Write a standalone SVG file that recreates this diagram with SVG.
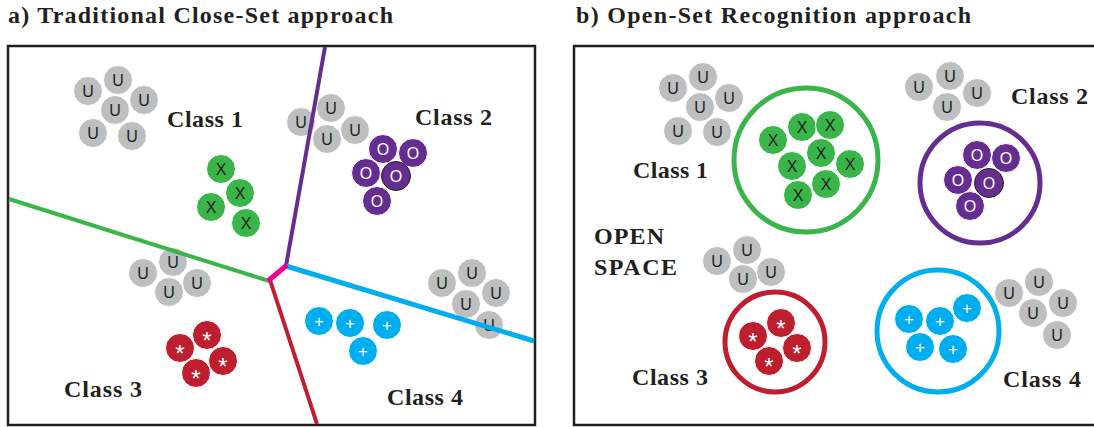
<svg xmlns="http://www.w3.org/2000/svg" width="1094" height="427" viewBox="0 0 1094 427">
<defs>
<style>
.title{font-family:'Liberation Serif','DejaVu Serif',serif;font-weight:bold;font-size:24px;fill:#231f20}
.lbl{font-family:'Liberation Serif','DejaVu Serif',serif;font-weight:bold;font-size:24px;fill:#231f20}
.box{fill:#fff;stroke:#231f20;stroke-width:2.5}
.c{stroke:#fff;stroke-width:1}
.gy{fill:#bcbec0}.gn{fill:#39b54a}.pu{fill:#662d91}.rd{fill:#be1e2d}.bl{fill:#00aeef}
.ol{stroke:#231f20;stroke-width:1}
.s{font-family:'Liberation Sans',sans-serif;font-size:16px;text-anchor:middle}
.sp{font-family:'Liberation Sans',sans-serif;font-size:17px;text-anchor:middle}
.st{font-family:'Liberation Sans',sans-serif;font-size:24px;text-anchor:middle}
.k{fill:#231f20}.w{fill:#fff}
.ln{fill:none;stroke-linecap:butt;stroke-linejoin:round}
.ring{fill:none;stroke-width:5}
</style>
</defs>
<rect width="1094" height="427" fill="#fff"/>
<text class="title" x="8" y="23" textLength="385">a) Traditional Close-Set approach</text>
<text class="title" x="576" y="23" textLength="395">b) Open-Set Recognition approach</text>
<rect class="box" x="8" y="46" width="527" height="379"/>
<rect class="box" x="574" y="46" width="530" height="379"/>

<!-- LEFT PANEL -->
<g id="L-u1">
<circle class="c gy" cx="88" cy="91" r="14.5"/><text class="s k" x="88" y="97">U</text>
<circle class="c gy" cx="118" cy="80" r="14.5"/><text class="s k" x="118" y="86">U</text>
<circle class="c gy" cx="144" cy="100" r="14.5"/><text class="s k" x="144" y="106">U</text>
<circle class="c gy" cx="115" cy="110" r="14.5"/><text class="s k" x="115" y="116">U</text>
<circle class="c gy" cx="93" cy="133" r="14.5"/><text class="s k" x="93" y="139">U</text>
<circle class="c gy" cx="132" cy="136" r="14.5"/><text class="s k" x="132" y="142">U</text>
</g>
<g id="L-class1"><text class="lbl" x="167" y="127" textLength="76">Class 1</text></g>
<g id="L-x">
<circle class="c gn" cx="221" cy="169" r="14.5"/><text class="s k" x="221" y="175">X</text>
<circle class="c gn" cx="240" cy="193" r="14.5"/><text class="s k" x="240" y="199">X</text>
<circle class="c gn" cx="211" cy="207" r="14.5"/><text class="s k" x="211" y="213">X</text>
<circle class="c gn" cx="246" cy="223" r="14.5"/><text class="s k" x="246" y="229">X</text>
</g>
<g id="L-u2">
<circle class="c gy" cx="301" cy="122" r="14.5"/><text class="s k" x="301" y="128">U</text>
<circle class="c gy" cx="331" cy="108" r="14.5"/><text class="s k" x="331" y="114">U</text>
<circle class="c gy" cx="355" cy="130" r="14.5"/><text class="s k" x="355" y="136">U</text>
<circle class="c gy" cx="327" cy="139" r="14.5"/><text class="s k" x="327" y="145">U</text>
</g>
<g id="L-class2"><text class="lbl" x="415" y="125" textLength="77">Class 2</text></g>
<g id="L-o">
<circle class="c pu" cx="383" cy="149" r="14.5"/><text class="s w" x="383" y="155">O</text>
<circle class="c pu" cx="413" cy="153" r="14.5"/><text class="s w" x="413" y="159">O</text>
<circle class="c pu" cx="366" cy="173" r="14.5"/><text class="s w" x="366" y="179">O</text>
<circle class="c pu" cx="377" cy="201" r="14.5"/><text class="s w" x="377" y="207">O</text>
<circle class="pu ol" cx="396" cy="176" r="14.5"/><text class="s w" x="396" y="182">O</text>
</g>
<g id="L-u3">
<circle class="c gy" cx="143" cy="273" r="14.5"/><text class="s k" x="143" y="279">U</text>
<circle class="c gy" cx="173" cy="262" r="14.5"/><text class="s k" x="173" y="268">U</text>
<circle class="c gy" cx="197" cy="283" r="14.5"/><text class="s k" x="197" y="289">U</text>
<circle class="c gy" cx="169" cy="292" r="14.5"/><text class="s k" x="169" y="298">U</text>
</g>
<g id="L-star">
<circle class="c rd" cx="207" cy="335" r="14.5"/><text class="st w" x="207" y="348.5">*</text>
<circle class="c rd" cx="180" cy="348" r="14.5"/><text class="st w" x="180" y="361.5">*</text>
<circle class="c rd" cx="223" cy="361" r="14.5"/><text class="st w" x="223" y="374.5">*</text>
<circle class="c rd" cx="196" cy="373" r="14.5"/><text class="st w" x="196" y="386.5">*</text>
</g>
<g id="L-class3"><text class="lbl" x="64" y="397" textLength="78">Class 3</text></g>
<g id="L-plus">
<circle class="c bl" cx="319" cy="321" r="14.5"/><text class="sp w" x="319" y="327">+</text>
<circle class="c bl" cx="350" cy="323" r="14.5"/><text class="sp w" x="350" y="329">+</text>
<circle class="c bl" cx="387" cy="325" r="14.5"/><text class="sp w" x="387" y="331">+</text>
<circle class="c bl" cx="363" cy="351" r="14.5"/><text class="sp w" x="363" y="357">+</text>
</g>
<g id="L-u4">
<circle class="c gy" cx="442" cy="283" r="14.5"/><text class="s k" x="442" y="289">U</text>
<circle class="c gy" cx="472" cy="273" r="14.5"/><text class="s k" x="472" y="279">U</text>
<circle class="c gy" cx="496" cy="293" r="14.5"/><text class="s k" x="496" y="299">U</text>
<circle class="c gy" cx="466" cy="304" r="14.5"/><text class="s k" x="466" y="310">U</text>
<circle class="c gy" cx="489" cy="325" r="14.5"/><text class="s k" x="489" y="331">U</text>
</g>
<g id="L-class4"><text class="lbl" x="387" y="405" textLength="76">Class 4</text></g>

<g id="connectors">
<line class="ln" x1="9" y1="199" x2="269" y2="281" stroke="#39b54a" stroke-width="4"/>
<line class="ln" x1="325" y1="47" x2="286" y2="266" stroke="#662d91" stroke-width="4"/>
<line class="ln" x1="286" y1="266" x2="534" y2="341" stroke="#00aeef" stroke-width="5"/>
<line class="ln" x1="270" y1="280" x2="317" y2="424" stroke="#be1e2d" stroke-width="4"/>
<line class="ln" x1="287" y1="265" x2="268" y2="281" stroke="#ec008c" stroke-width="5"/>
</g>

<!-- RIGHT PANEL -->
<g id="R-u1">
<circle class="c gy" cx="673" cy="88" r="14.5"/><text class="s k" x="673" y="94">U</text>
<circle class="c gy" cx="703" cy="77" r="14.5"/><text class="s k" x="703" y="83">U</text>
<circle class="c gy" cx="729" cy="98" r="14.5"/><text class="s k" x="729" y="104">U</text>
<circle class="c gy" cx="700" cy="107" r="14.5"/><text class="s k" x="700" y="113">U</text>
<circle class="c gy" cx="678" cy="131" r="14.5"/><text class="s k" x="678" y="137">U</text>
<circle class="c gy" cx="717" cy="132" r="14.5"/><text class="s k" x="717" y="138">U</text>
</g>
<g id="R-class1"><text class="lbl" x="633" y="178" textLength="75">Class 1</text></g>
<g id="R-x">
<circle class="ring" cx="806" cy="160" r="72" stroke="#39b54a"/>
<circle class="c gn" cx="773" cy="140" r="14.5"/><text class="s k" x="773" y="146">X</text>
<circle class="c gn" cx="802" cy="127" r="14.5"/><text class="s k" x="802" y="133">X</text>
<circle class="c gn" cx="830" cy="125" r="14.5"/><text class="s k" x="830" y="131">X</text>
<circle class="c gn" cx="821" cy="153" r="14.5"/><text class="s k" x="821" y="159">X</text>
<circle class="c gn" cx="792" cy="166" r="14.5"/><text class="s k" x="792" y="172">X</text>
<circle class="c gn" cx="850" cy="164" r="14.5"/><text class="s k" x="850" y="170">X</text>
<circle class="c gn" cx="826" cy="184" r="14.5"/><text class="s k" x="826" y="190">X</text>
<circle class="c gn" cx="798" cy="195" r="14.5"/><text class="s k" x="798" y="201">X</text>
</g>
<g id="R-u2">
<circle class="c gy" cx="919" cy="87" r="14.5"/><text class="s k" x="919" y="93">U</text>
<circle class="c gy" cx="950" cy="76" r="14.5"/><text class="s k" x="950" y="82">U</text>
<circle class="c gy" cx="977" cy="93" r="14.5"/><text class="s k" x="977" y="99">U</text>
<circle class="c gy" cx="947" cy="107" r="14.5"/><text class="s k" x="947" y="113">U</text>
</g>
<g id="R-class2"><text class="lbl" x="1011" y="104" textLength="77">Class 2</text></g>
<g id="R-o">
<circle class="ring" cx="980" cy="183" r="60" stroke="#662d91"/>
<circle class="c pu" cx="977" cy="155" r="14.5"/><text class="s w" x="977" y="161">O</text>
<circle class="c pu" cx="1006" cy="158" r="14.5"/><text class="s w" x="1006" y="164">O</text>
<circle class="c pu" cx="958" cy="180" r="14.5"/><text class="s w" x="958" y="186">O</text>
<circle class="c pu" cx="970" cy="206" r="14.5"/><text class="s w" x="970" y="212">O</text>
<circle class="pu ol" cx="989" cy="183" r="14.5"/><text class="s w" x="989" y="189">O</text>
</g>
<g id="R-openspace">
<text class="lbl" x="594" y="244" textLength="70">OPEN</text>
<text class="lbl" x="594" y="275" textLength="83">SPACE</text>
</g>
<g id="R-u3">
<circle class="c gy" cx="717" cy="261" r="14.5"/><text class="s k" x="717" y="267">U</text>
<circle class="c gy" cx="747" cy="250" r="14.5"/><text class="s k" x="747" y="256">U</text>
<circle class="c gy" cx="771" cy="272" r="14.5"/><text class="s k" x="771" y="278">U</text>
<circle class="c gy" cx="743" cy="279" r="14.5"/><text class="s k" x="743" y="285">U</text>
</g>
<g id="R-star">
<circle class="ring" cx="775" cy="342" r="50" stroke="#be1e2d"/>
<circle class="c rd" cx="781" cy="323" r="14.5"/><text class="st w" x="781" y="336.5">*</text>
<circle class="c rd" cx="753" cy="336" r="14.5"/><text class="st w" x="753" y="349.5">*</text>
<circle class="c rd" cx="797" cy="348" r="14.5"/><text class="st w" x="797" y="361.5">*</text>
<circle class="c rd" cx="769" cy="361" r="14.5"/><text class="st w" x="769" y="374.5">*</text>
</g>
<g id="R-class3"><text class="lbl" x="632" y="385" textLength="76">Class 3</text></g>
<g id="R-plus">
<circle class="ring" cx="938" cy="331" r="61" stroke="#00aeef"/>
<circle class="c bl" cx="909" cy="319" r="14.5"/><text class="sp w" x="909" y="325">+</text>
<circle class="c bl" cx="940" cy="321" r="14.5"/><text class="sp w" x="940" y="327">+</text>
<circle class="c bl" cx="967" cy="308" r="14.5"/><text class="sp w" x="967" y="314">+</text>
<circle class="c bl" cx="920" cy="347" r="14.5"/><text class="sp w" x="920" y="353">+</text>
<circle class="c bl" cx="953" cy="349" r="14.5"/><text class="sp w" x="953" y="355">+</text>
</g>
<g id="R-u4">
<circle class="c gy" cx="1009" cy="293" r="14.5"/><text class="s k" x="1009" y="299">U</text>
<circle class="c gy" cx="1039" cy="282" r="14.5"/><text class="s k" x="1039" y="288">U</text>
<circle class="c gy" cx="1063" cy="303" r="14.5"/><text class="s k" x="1063" y="309">U</text>
<circle class="c gy" cx="1033" cy="313" r="14.5"/><text class="s k" x="1033" y="319">U</text>
<circle class="c gy" cx="1057" cy="335" r="14.5"/><text class="s k" x="1057" y="341">U</text>
</g>
<g id="R-class4"><text class="lbl" x="1003" y="387" textLength="78">Class 4</text></g>
</svg>
